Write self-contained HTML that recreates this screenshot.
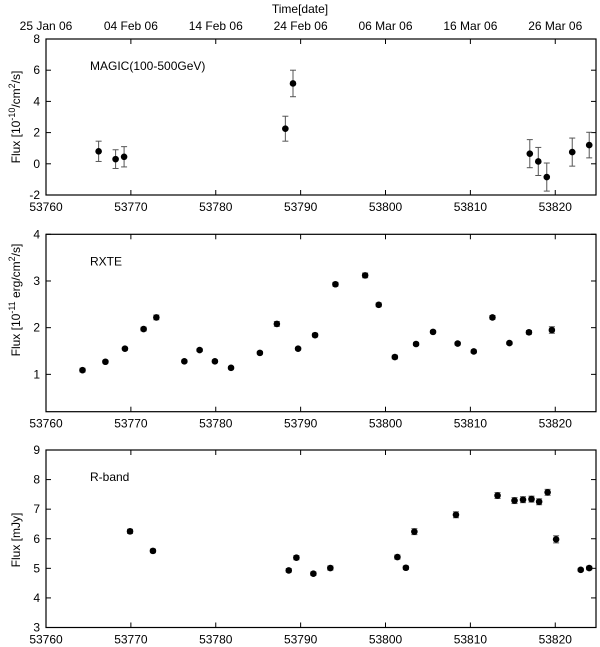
<!DOCTYPE html>
<html><head><meta charset="utf-8"><style>
body{margin:0;background:#fff}
svg{display:block;font-family:"Liberation Sans",sans-serif}
</style></head><body>
<svg id="c" width="600" height="647"></svg>
<script>
const xTicks=[53760,53770,53780,53790,53800,53810,53820];
const dateLabels=["25 Jan 06","04 Feb 06","14 Feb 06","24 Feb 06","06 Mar 06","16 Mar 06","26 Mar 06"];
const magicX=[53766.2,53768.2,53769.2,53788.2,53789.1,53817.0,53818.0,53819.0,53822.0,53824.0];
const magicY=[0.8,0.3,0.45,2.25,5.15,0.65,0.15,-0.85,0.75,1.2];
const magicErr=[0.65,0.6,0.65,0.8,0.85,0.9,0.9,0.9,0.9,0.82];
const rxteX=[53764.3,53767.0,53769.3,53771.5,53773.0,53776.3,53778.1,53779.9,53781.8,53785.2,53787.2,53789.7,53791.7,53794.1,53797.6,53799.2,53801.1,53803.6,53805.6,53808.5,53810.4,53812.6,53814.6,53816.9,53819.6];
const rxteY=[1.09,1.27,1.55,1.97,2.22,1.28,1.52,1.28,1.14,1.46,2.08,1.55,1.84,2.93,3.12,2.49,1.37,1.65,1.91,1.66,1.49,2.22,1.67,1.90,1.95];
const rxteErr=[0.04,0.03,0.03,0.04,0.05,0.03,0.03,0.03,0.03,0.03,0.05,0.03,0.04,0.04,0.05,0.04,0.04,0.03,0.03,0.03,0.03,0.04,0.03,0.04,0.07];
const rbX=[53769.9,53772.6,53788.6,53789.5,53791.5,53793.5,53801.4,53802.4,53803.4,53808.3,53813.2,53815.2,53816.2,53817.2,53818.1,53819.1,53820.1,53823.0,53824.0];
const rbY=[6.25,5.59,4.93,5.36,4.82,5.01,5.38,5.02,6.24,6.81,7.46,7.29,7.32,7.34,7.25,7.57,5.98,4.95,5.01];
const rbErr=[0.07,0.06,0.06,0.07,0.06,0.07,0.07,0.06,0.1,0.1,0.1,0.1,0.1,0.1,0.1,0.1,0.12,0.05,0.06];
const magicTicks=[-2,0,2,4,6,8];
const rxteTicks=[1,2,3,4];
const rbTicks=[3,4,5,6,7,8,9];

const svg=document.getElementById('c');
const NS='http://www.w3.org/2000/svg';
function mk(tag,attrs,parent){const e=document.createElementNS(NS,tag);for(const k in attrs)e.setAttribute(k,attrs[k]);(parent||svg).appendChild(e);return e;}
const X0=46,X1=596,D0=53760,D1=53824.8;
const sx=d=>X0+(d-D0)/(D1-D0)*(X1-X0);

function panel(name,top,bot,ymin,ymax,yt,xs,ys,es,label,ttl,ttlY){
  const g=mk('g',{});
  
  
  const sy=v=>bot-(v-ymin)/(ymax-ymin)*(bot-top);
  const fr=mk('rect',{x:X0,y:top,width:X1-X0,height:bot-top,fill:'none',stroke:'#000','stroke-width':1.2},g);
  
  
  xTicks.forEach(t=>{const x=sx(t);
    mk('line',{x1:x,x2:x,y1:bot,y2:bot-5,stroke:'#000'},g);
    mk('line',{x1:x,x2:x,y1:top,y2:top+5,stroke:'#000'},g);
    const tl=mk('text',{x:x,y:bot+16,'text-anchor':'middle','font-size':12},g);tl.textContent=t;
    
    
  });
  yt.forEach(t=>{const y=sy(t);
    mk('line',{x1:X0,x2:X0+5,y1:y,y2:y,stroke:'#000'},g);
    mk('line',{x1:X1,x2:X1-5,y1:y,y2:y,stroke:'#000'},g);
    const tl=mk('text',{x:40,y:y+4,'text-anchor':'end','font-size':12},g);tl.textContent=t;
    
    
  });
  xs.forEach((d,i)=>{const x=sx(d),y=sy(ys[i]),e=es[i];
    const y1=sy(ys[i]+e),y2=sy(ys[i]-e);
    mk('line',{x1:x,x2:x,y1:y1,y2:y2,stroke:'#555'},g);
    mk('line',{x1:x-3,x2:x+3,y1:y1,y2:y1,stroke:'#555'},g);
    mk('line',{x1:x-3,x2:x+3,y1:y2,y2:y2,stroke:'#555'},g);
    const c=mk('circle',{cx:x,cy:y,r:3.3,fill:'#000'},g);
    
    
  });
  const l=mk('text',{x:90,y:top+31,'font-size':12},g);l.textContent=label;
  
  
  const yt2=mk('text',{x:0,y:0,'text-anchor':'middle','font-size':12,transform:`translate(20,${ttlY}) rotate(-90)`},g);
  yt2.innerHTML=ttl;
  
  
}
panel('magic',39,195,-2,8,magicTicks,magicX,magicY,magicErr,'MAGIC(100-500GeV)','Flux [10<tspan dy="-5" font-size="9">-10</tspan><tspan dy="5">/cm</tspan><tspan dy="-5" font-size="9">2</tspan><tspan dy="5">/s]</tspan>',117);
panel('rxte',234.3,411.7,0.2,4,rxteTicks,rxteX,rxteY,rxteErr,'RXTE','Flux [10<tspan dy="-5" font-size="9">-11</tspan><tspan dy="5"> erg/cm</tspan><tspan dy="-5" font-size="9">2</tspan><tspan dy="5">/s]</tspan>',300);
panel('rband',450,627.5,3,9,rbTicks,rbX,rbY,rbErr,'R-band','Flux [mJy]',540);
dateLabels.forEach((s,i)=>{const t=mk('text',{x:sx(xTicks[i]),y:30,'text-anchor':'middle','font-size':12});t.textContent=s;
  
  });
const tt=mk('text',{x:300,y:13,'text-anchor':'middle','font-size':12});tt.textContent='Time[date]';


</script>
</body></html>
